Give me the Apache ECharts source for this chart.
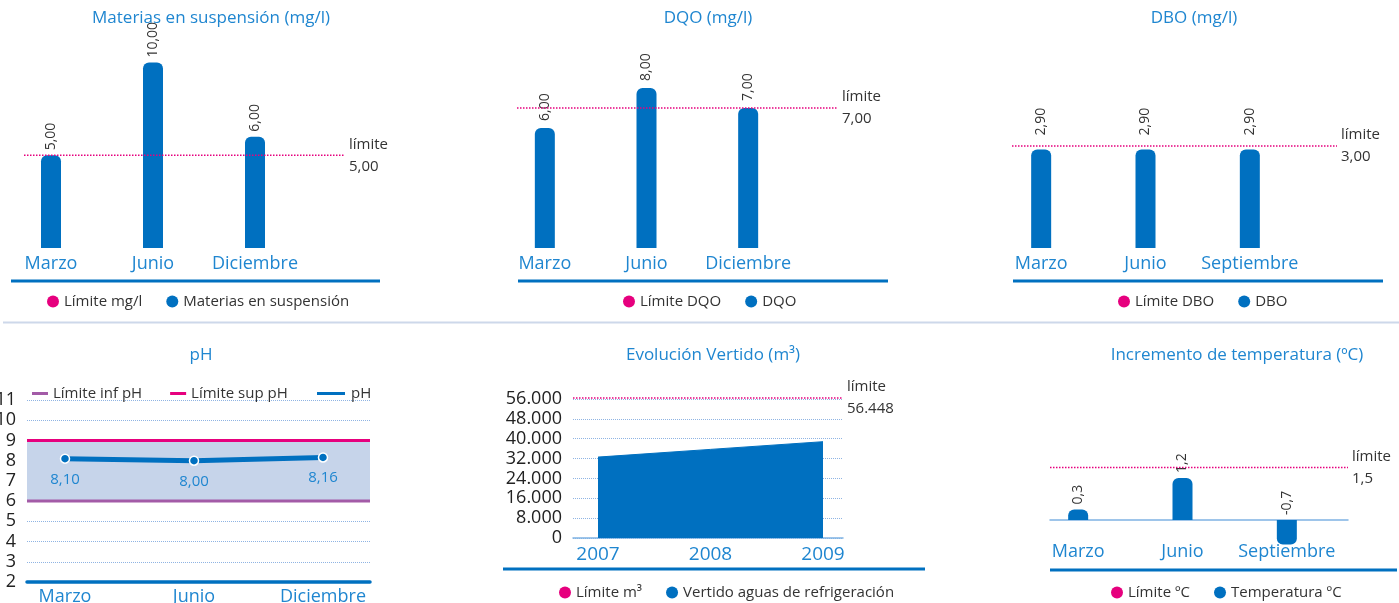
<!DOCTYPE html>
<html>
<head>
<meta charset="utf-8">
<script src="https://cdn.jsdelivr.net/npm/echarts@6/dist/echarts.min.js"></script>
<style>
  body { margin: 0; background: #fff; }
  #chart { width: 1399px; height: 603px; }
</style>
</head>
<body>
<div id="chart"></div>
<script>
// datos
const msCats = ['Marzo', 'Junio', 'Diciembre'];
const msValues = [5, 10, 6];
const msLimit = 5;

const dqoCats = ['Marzo', 'Junio', 'Diciembre'];
const dqoValues = [6, 8, 7];
const dqoLimit = 7;

const dboCats = ['Marzo', 'Junio', 'Septiembre'];
const dboValues = [2.9, 2.9, 2.9];
const dboLimit = 3;

const phCats = ['Marzo', 'Junio', 'Diciembre'];
const phValues = [8.10, 8.00, 8.16];
const phLimInf = 6;
const phLimSup = 9;

const vertYears = ['2007', '2008', '2009'];
const vertValues = [32600, 35700, 38800];
const vertLimit = 56448;
const vertTicks = [0, 56000, 8000]; // min, max, paso

const tempCats = ['Marzo', 'Junio', 'Septiembre'];
const tempValues = [0.3, 1.2, -0.7];
const tempLimit = 1.5;

const FONT = 'Open Sans';
const BLUE = '#0070c0';
const TXT_BLUE = '#1f86d0';
const PINK = '#e6007e';
const DARK = '#333';
const GRIDLINE = '#8fb4e3';

const fmt2 = v => v.toFixed(2).replace('.', ',');
const fmt1 = v => v.toFixed(1).replace('.', ',');
const fmtMiles = v => String(v).replace(/\B(?=(\d{3})+(?!\d))/g, '.');

const grids = [], xAxes = [], yAxes = [], series = [], titles = [], legends = [];

function addGrid(g, xa, ya) {
  grids.push(Object.assign({ outerBoundsMode: 'none', containLabel: false }, g));
  const i = grids.length - 1;
  xAxes.push(Object.assign({ gridIndex: i }, xa));
  yAxes.push(Object.assign({ gridIndex: i }, ya));
  return i;
}

function addTitle(text, cx, top) {
  titles.push({
    text: text, left: cx, top: top, textAlign: 'center',
    textStyle: { color: TXT_BLUE, fontSize: 17, fontWeight: 'normal', fontFamily: FONT }
  });
}

function addDotLegend(names, left, top) {
  legends.push({
    data: names, left: left, top: top, icon: 'circle',
    itemWidth: 12, itemHeight: 12, itemGap: 24,
    textStyle: { color: DARK, fontSize: 15, fontFamily: FONT }
  });
}

function limitSeries(name, gi, lim, label) {
  return {
    name: name, type: 'line', xAxisIndex: gi, yAxisIndex: gi,
    data: [lim, lim], symbol: 'none', silent: true, clip: false,
    color: PINK, itemStyle: { color: PINK },
    lineStyle: { color: PINK, type: 'dotted', width: 1.5 },
    endLabel: {
      show: true, formatter: 'límite\n' + label, color: DARK,
      fontSize: 15, lineHeight: 22, distance: 4, fontFamily: FONT
    }
  };
}

// panel de barras: rejilla de barras + rejilla de la línea límite
function barPanel(p) {
  const yAx = { type: 'value', min: p.min, max: p.max, show: false };
  // desplazamiento del eje x hasta la línea del cero
  const zeroOffset = -p.height * (0 - p.min) / (p.max - p.min);
  const bg = addGrid(
    { left: p.barLeft, width: p.barWidth, top: p.top, height: p.height },
    {
      type: 'category', data: p.cats, offset: zeroOffset,
      axisLine: { show: false, onZero: false },
      axisTick: { show: false },
      axisLabel: { interval: 0, color: TXT_BLUE, fontSize: 18, margin: p.labelMargin, fontFamily: FONT }
    },
    Object.assign({}, yAx)
  );
  const lg = addGrid(
    { left: p.limLeft, width: p.limWidth, top: p.top, height: p.height },
    {
      type: 'category', data: ['', ''], boundaryGap: false, offset: zeroOffset,
      axisLine: { show: !!p.zeroLine, onZero: false, lineStyle: { color: '#7fb3e3', width: 1.5 } },
      axisTick: { show: false }, axisLabel: { show: false }
    },
    Object.assign({}, yAx)
  );
  series.push(limitSeries(p.limName, lg, p.limit, p.fmt(p.limit)));
  series.push({
    name: p.name, type: 'bar', xAxisIndex: bg, yAxisIndex: bg, barWidth: 20,
    color: BLUE,
    itemStyle: { color: BLUE },
    data: p.values.map(v => ({
      value: v,
      itemStyle: { borderRadius: v >= 0 ? [6, 6, 0, 0] : [0, 0, 6, 6] }
    })),
    label: {
      show: true, position: 'top', rotate: 90, align: 'left', verticalAlign: 'middle',
      distance: p.labelDist, color: DARK, fontSize: 14, fontFamily: FONT,
      formatter: d => p.fmt(d.value)
    }
  });
}

// ---- fila superior ----
addTitle('Materias en suspensión (mg/l)', 206, 5);
barPanel({
  cats: msCats, values: msValues, limit: msLimit, fmt: fmt2,
  name: 'Materias en suspensión', limName: 'Límite mg/l',
  barLeft: 0, barWidth: 306, limLeft: 24, limWidth: 321,
  top: 44, height: 204, min: 0, max: 11, labelMargin: 7, labelDist: 5
});
addDotLegend(['Límite mg/l', 'Materias en suspensión'], 42, 289);

addTitle('DQO (mg/l)', 703, 5);
barPanel({
  cats: dqoCats, values: dqoValues, limit: dqoLimit, fmt: fmt2,
  name: 'DQO', limName: 'Límite DQO',
  barLeft: 494, barWidth: 305, limLeft: 517, limWidth: 321,
  top: 48, height: 200, min: 0, max: 10, labelMargin: 7, labelDist: 7
});
addDotLegend(['Límite DQO', 'DQO'], 618, 289);

addTitle('DBO (mg/l)', 1189, 5);
barPanel({
  cats: dboCats, values: dboValues, limit: dboLimit, fmt: fmt2,
  name: 'DBO', limName: 'Límite DBO',
  barLeft: 989, barWidth: 313, limLeft: 1012, limWidth: 325,
  top: 44, height: 204, min: 0, max: 6, labelMargin: 7, labelDist: 14
});
addDotLegend(['Límite DBO', 'DBO'], 1113, 289);

// ---- pH ----
addTitle('pH', 196, 342);
const phWide = addGrid(
  { left: 27, width: 343, top: 400, height: 182 },
  {
    type: 'category', data: ['', ''], boundaryGap: false,
    axisLine: { show: true, lineStyle: { color: BLUE, width: 3.5 } },
    axisTick: { show: false }, axisLabel: { show: false }
  },
  {
    type: 'value', min: 2, max: 11, interval: 1,
    axisLine: { show: false }, axisTick: { show: false },
    axisLabel: { color: '#222', fontSize: 18, margin: 11, fontFamily: FONT },
    splitLine: { lineStyle: { color: GRIDLINE, type: 'dotted' } }
  }
);
series.push({
  name: 'Límite inf pH', type: 'line', xAxisIndex: phWide, yAxisIndex: phWide,
  data: [phLimInf, phLimInf], symbol: 'none', silent: true,
  color: '#a35ba7', lineStyle: { color: '#a35ba7', width: 3 },
  markArea: {
    silent: true, itemStyle: { color: '#c6d4ea' },
    data: [[{ yAxis: phLimInf }, { yAxis: phLimSup }]]
  }
});
series.push({
  name: 'Límite sup pH', type: 'line', xAxisIndex: phWide, yAxisIndex: phWide,
  data: [phLimSup, phLimSup], symbol: 'none', silent: true,
  color: PINK, lineStyle: { color: PINK, width: 3 }
});
const phNarrow = addGrid(
  { left: 65, width: 258, top: 400, height: 182 },
  {
    type: 'category', data: phCats, boundaryGap: false,
    axisLine: { show: false }, axisTick: { show: false },
    axisLabel: { interval: 0, color: TXT_BLUE, fontSize: 18, margin: 6, fontFamily: FONT }
  },
  { type: 'value', min: 2, max: 11, show: false }
);
series.push({
  name: 'pH', type: 'line', xAxisIndex: phNarrow, yAxisIndex: phNarrow,
  data: phValues, color: BLUE, lineStyle: { color: BLUE, width: 5 },
  symbol: 'circle', symbolSize: 9,
  itemStyle: { color: BLUE, borderColor: '#fff', borderWidth: 1.5 },
  label: {
    show: true, position: 'bottom', distance: 8, color: TXT_BLUE, fontSize: 15,
    fontFamily: FONT, formatter: d => fmt2(d.value)
  }
});
legends.push({
  data: ['Límite inf pH', 'Límite sup pH'], left: 27, top: 381, icon: 'rect',
  itemWidth: 16, itemHeight: 3, itemGap: 28,
  textStyle: { color: DARK, fontSize: 15, fontFamily: FONT }
});
legends.push({
  data: ['pH'], left: 310, top: 381, icon: 'rect',
  itemWidth: 30, itemHeight: 5,
  textStyle: { color: DARK, fontSize: 15, fontFamily: FONT }
});

// ---- Evolución Vertido ----
addTitle('Evolución Vertido (m³)', 708, 342);
const vWide = addGrid(
  { left: 573, width: 270, top: 399, height: 139 },
  {
    type: 'category', data: ['', ''], boundaryGap: false,
    axisLine: { show: true, lineStyle: { color: '#7fb3e3', width: 1.5 } },
    axisTick: { show: false }, axisLabel: { show: false }
  },
  {
    type: 'value', min: vertTicks[0], max: vertTicks[1], interval: vertTicks[2],
    axisLine: { show: false }, axisTick: { show: false },
    axisLabel: { color: '#222', fontSize: 18, margin: 11, fontFamily: FONT, formatter: fmtMiles },
    splitLine: { lineStyle: { color: GRIDLINE, type: 'dotted' } }
  }
);
series.push(limitSeries('Límite m³', vWide, vertLimit, fmtMiles(vertLimit)));
const vNarrow = addGrid(
  { left: 598, width: 225, top: 399, height: 139 },
  {
    type: 'category', data: vertYears, boundaryGap: false,
    axisLine: { show: false }, axisTick: { show: false },
    axisLabel: { interval: 0, color: TXT_BLUE, fontSize: 19, margin: 7, fontFamily: FONT }
  },
  { type: 'value', min: vertTicks[0], max: vertTicks[1], show: false }
);
series.push({
  name: 'Vertido aguas de refrigeración', type: 'line', xAxisIndex: vNarrow, yAxisIndex: vNarrow,
  data: vertValues, symbol: 'none', color: BLUE, itemStyle: { color: BLUE },
  lineStyle: { color: BLUE, width: 1 }, areaStyle: { color: BLUE, opacity: 1 }
});
addDotLegend(['Límite m³', 'Vertido aguas de refrigeración'], 554, 580);

// ---- Incremento de temperatura ----
addTitle('Incremento de temperatura (ºC)', 1232, 342);
barPanel({
  cats: tempCats, values: tempValues, limit: tempLimit, fmt: fmt1,
  name: 'Temperatura ºC', limName: 'Límite ºC',
  barLeft: 1026, barWidth: 313, limLeft: 1050, limWidth: 298,
  top: 450, height: 105, min: -1, max: 2, labelMargin: 23, labelDist: 5, zeroLine: true
});
addDotLegend(['Límite ºC', 'Temperatura ºC'], 1106, 580);

// líneas separadoras
const rule = (x1, x2, y, color, w) => ({
  type: 'line', silent: true,
  shape: { x1: x1, y1: y, x2: x2, y2: y },
  style: { stroke: color, lineWidth: w }
});

const chart = echarts.init(document.getElementById('chart'));
chart.setOption({
  animation: false,
  backgroundColor: '#fff',
  textStyle: { fontFamily: FONT },
  title: titles,
  legend: legends,
  grid: grids,
  xAxis: xAxes,
  yAxis: yAxes,
  series: series,
  graphic: [
    rule(11, 380, 281, BLUE, 3),
    rule(518, 888, 281, BLUE, 3),
    rule(1013, 1383, 281, BLUE, 3),
    rule(3, 1399, 322.5, '#cdd8ea', 2),
    rule(503, 925, 569, BLUE, 3),
    rule(1050, 1397, 570, BLUE, 3)
  ]
});
</script>
</body>
</html>
